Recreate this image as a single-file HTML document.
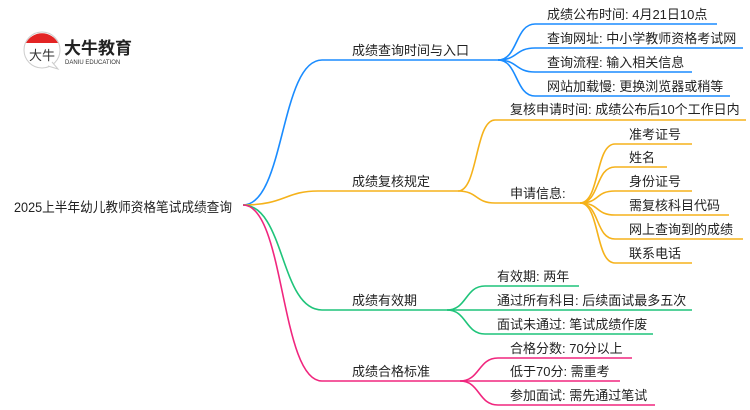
<!DOCTYPE html>
<html><head><meta charset="utf-8"><style>
html,body{margin:0;padding:0;background:#fff;}
svg{display:block;}
text{font-family:"Liberation Sans","Noto Sans CJK SC",sans-serif;font-size:13px;fill:#222;}
path.b,path.o,path.g,path.p{fill:none;stroke-width:1.6;}
.b{stroke:#1a8cff}.o{stroke:#f5b21b}.g{stroke:#1fc47a}.p{stroke:#f0267e}
</style></head><body>
<svg width="750" height="410" viewBox="0 0 750 410" xmlns="http://www.w3.org/2000/svg">
<!-- logo -->
<circle cx="42" cy="50" r="18" style="fill:#fff;stroke:#ccc;stroke-width:1"/>
<path d="M26 43 A18 18 0 0 1 58 43 Z" style="fill:#e32424;stroke:none"/>
<path d="M48 66 L58 69 L52 62" style="fill:#fff;stroke:#ccc;stroke-width:1"/>
<text x="29" y="60" style="font-size:13px;fill:#333">大牛</text>
<text x="64" y="54" style="font-size:17px;font-weight:bold;fill:#222">大牛教育</text>
<text x="65" y="64" style="font-size:6px;fill:#333">DANIU EDUCATION</text>

<!-- root -->
<text x="14" y="212" textLength="218" lengthAdjust="spacingAndGlyphs" style="font-size:13.5px">2025上半年幼儿教师资格笔试成绩查询</text>

<!-- main branches -->
<path class="b" d="M243 205 C285 205 280 60 322 60 L498 60"/>
<path class="o" d="M243 205 C285 205 285 191 318 191 L458 191"/>
<path class="g" d="M243 205 C285 205 280 310 322 310 L447 310"/>
<path class="p" d="M243 205 C285 205 280 381 322 381 L460 381"/>
<text x="352" y="55">成绩查询时间与入口</text>
<text x="352" y="186">成绩复核规定</text>
<text x="352" y="305">成绩有效期</text>
<text x="352" y="376">成绩合格标准</text>

<!-- blue leaves -->
<path class="b" d="M498 60 C518 60 515 24 535 24 L717 24"/>
<path class="b" d="M498 60 C518 60 515 48 535 48 L743 48"/>
<path class="b" d="M498 60 C518 60 515 72 535 72 L692 72"/>
<path class="b" d="M498 60 C518 60 515 96 535 96 L730 96"/>
<text x="547" y="19">成绩公布时间: 4月21日10点</text>
<text x="547" y="43">查询网址: 中小学教师资格考试网</text>
<text x="547" y="67">查询流程: 输入相关信息</text>
<text x="547" y="91">网站加载慢: 更换浏览器或稍等</text>

<!-- orange -->
<path class="o" d="M458 191 C478 191 475 120 495 120 L746 120"/>
<path class="o" d="M458 191 C478 191 475 203 495 203 L580 203"/>
<text x="510" y="114">复核申请时间: 成绩公布后10个工作日内</text>
<text x="510" y="198">申请信息:</text>
<path class="o" d="M580 203 C600 203 595 144 615 144 L692 144"/>
<path class="o" d="M580 203 C600 203 595 167 615 167 L667 167"/>
<path class="o" d="M580 203 C600 203 595 191 615 191 L692 191"/>
<path class="o" d="M580 203 C600 203 595 215 615 215 L729 215"/>
<path class="o" d="M580 203 C600 203 595 239 615 239 L743 239"/>
<path class="o" d="M580 203 C600 203 595 263 615 263 L692 263"/>
<text x="629" y="139">准考证号</text>
<text x="629" y="162">姓名</text>
<text x="629" y="186">身份证号</text>
<text x="629" y="210">需复核科目代码</text>
<text x="629" y="234">网上查询到的成绩</text>
<text x="629" y="258">联系电话</text>

<!-- green -->
<path class="g" d="M447 310 C467 310 465 286 485 286 L579 286"/>
<path class="g" d="M447 310 C467 310 465 310 485 310 L692 310"/>
<path class="g" d="M447 310 C467 310 465 334 485 334 L653 334"/>
<text x="497" y="281">有效期: 两年</text>
<text x="497" y="305">通过所有科目: 后续面试最多五次</text>
<text x="497" y="329">面试未通过: 笔试成绩作废</text>

<!-- pink -->
<path class="p" d="M460 381 C480 381 478 358 498 358 L632 358"/>
<path class="p" d="M460 381 C480 381 478 381 498 381 L620 381"/>
<path class="p" d="M460 381 C480 381 478 405 498 405 L655 405"/>
<text x="510" y="353">合格分数: 70分以上</text>
<text x="510" y="376">低于70分: 需重考</text>
<text x="510" y="400">参加面试: 需先通过笔试</text>
</svg>
</body></html>
